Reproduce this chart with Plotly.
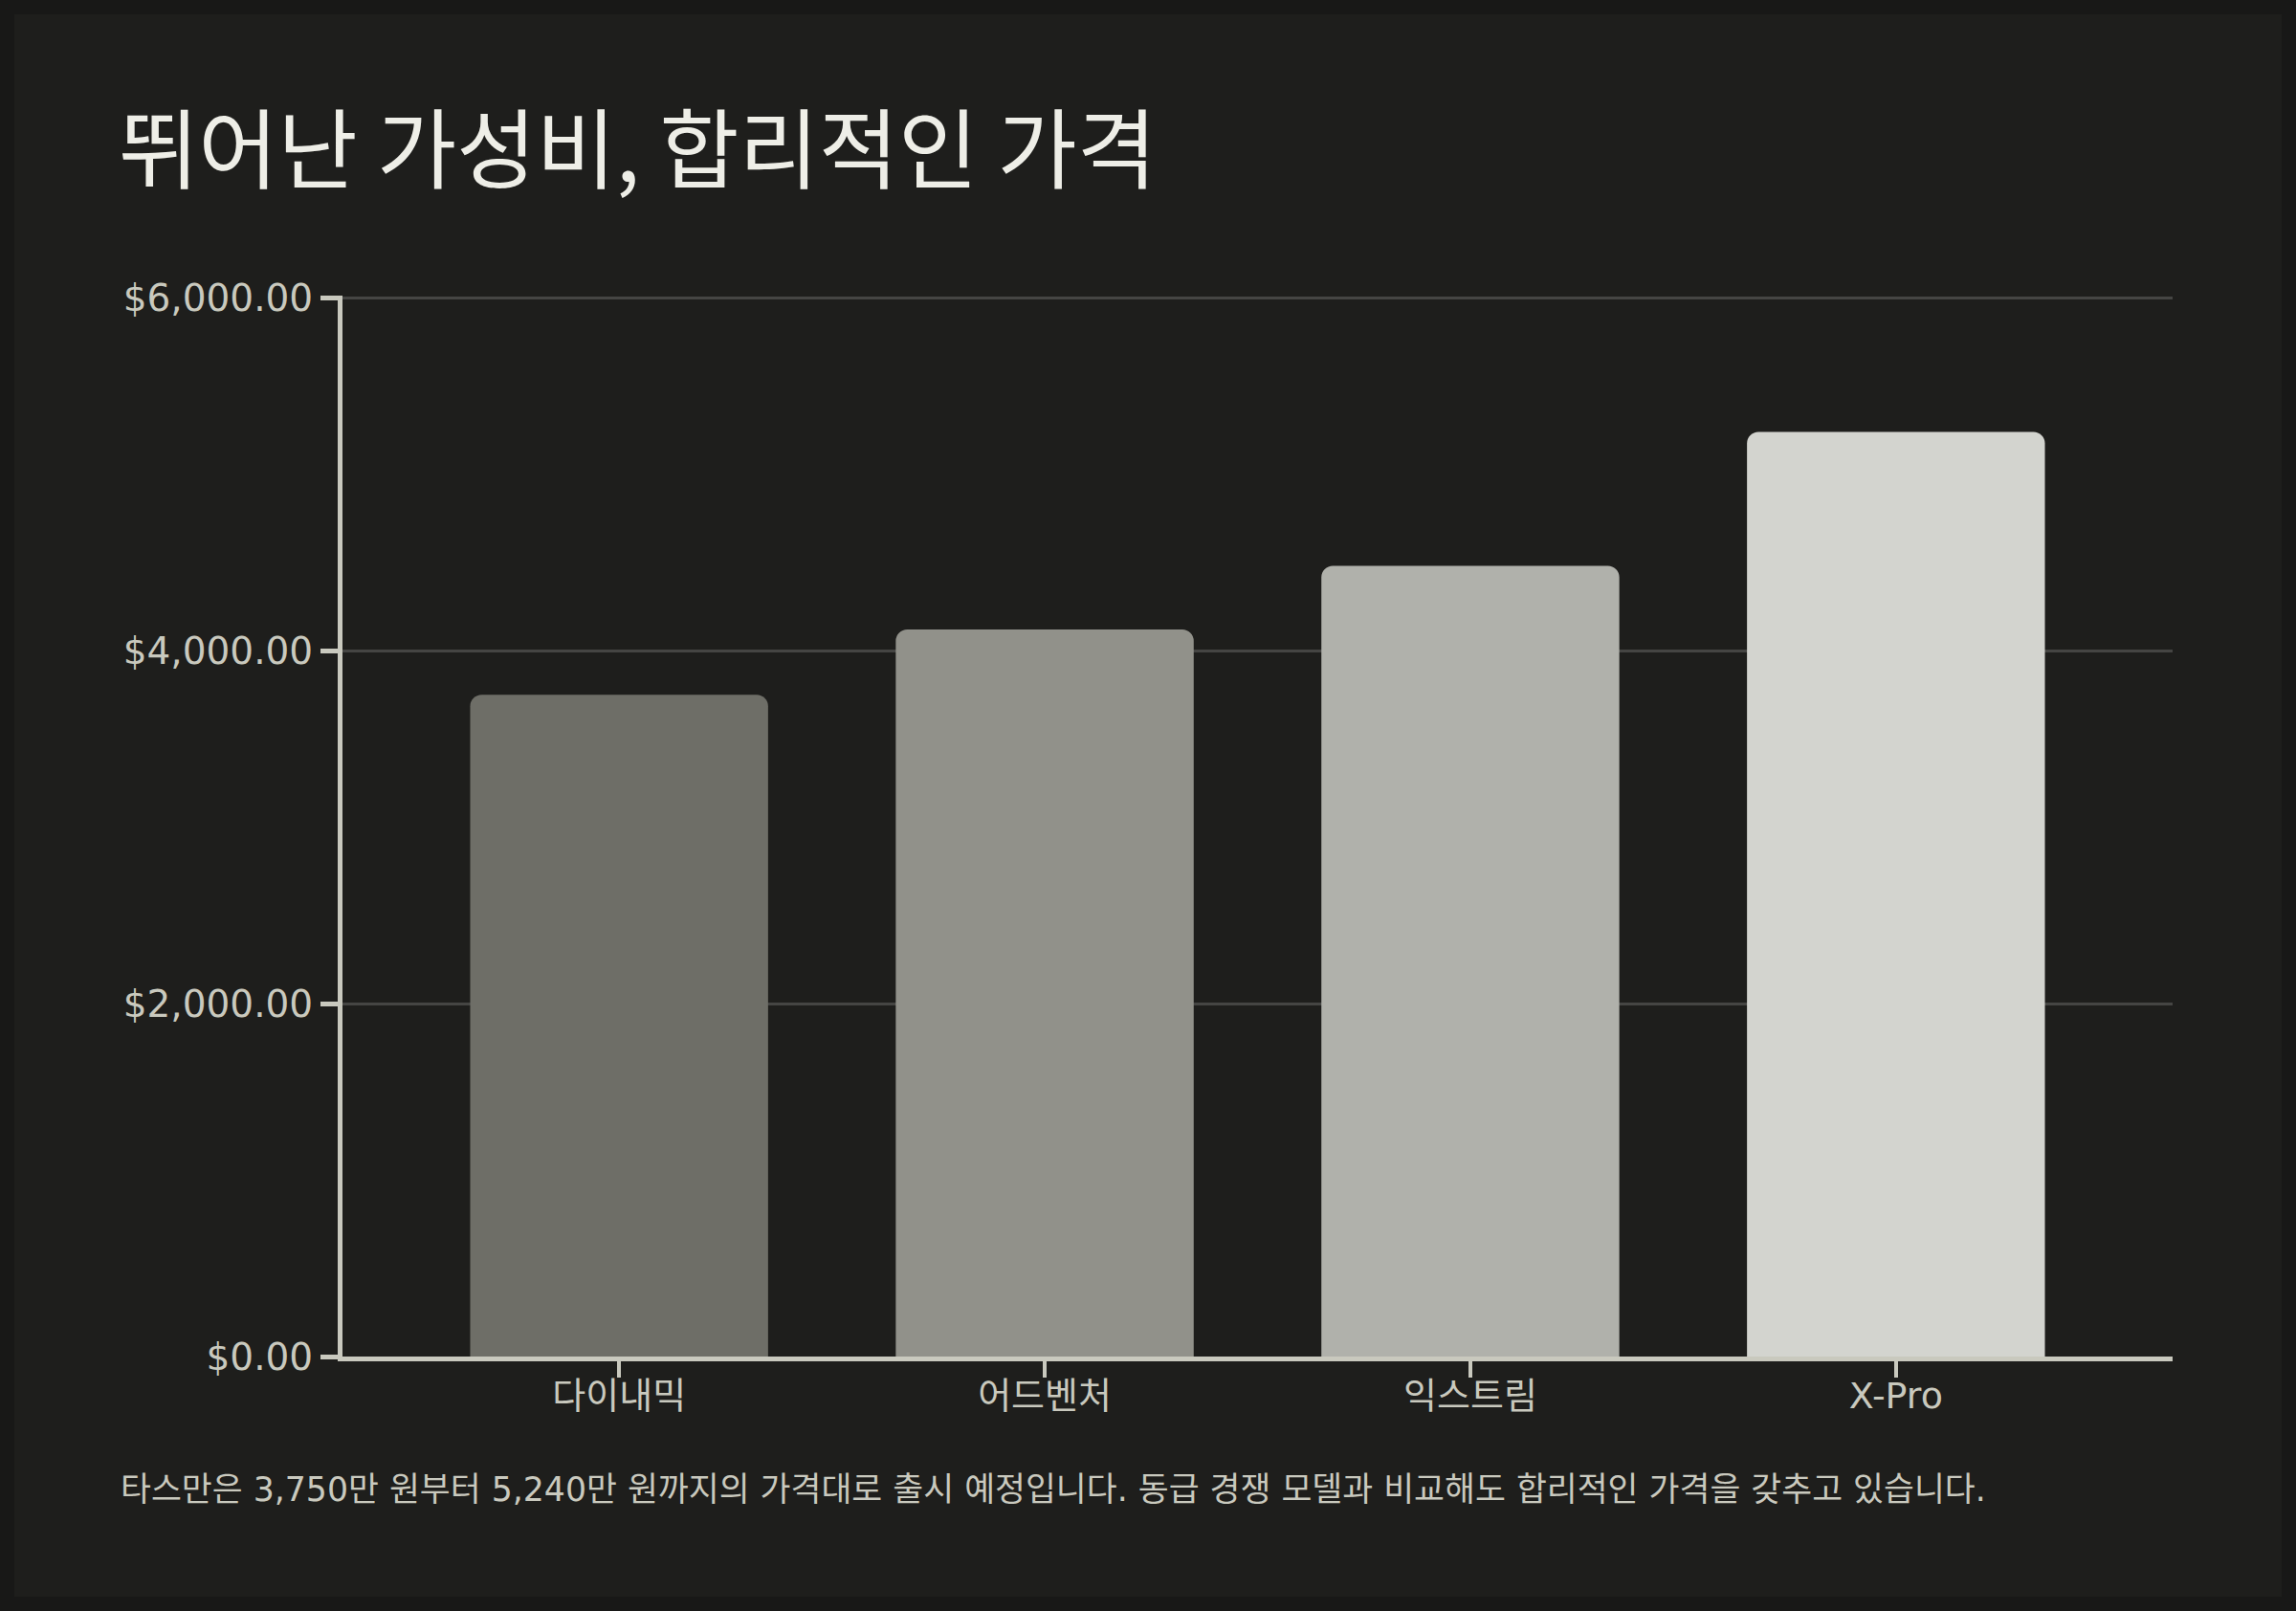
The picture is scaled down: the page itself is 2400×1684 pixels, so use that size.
import plotly.graph_objects as go

# data
models = ['다이내믹', '어드벤처', '익스트림', 'X-Pro']
prices = [3750, 4120, 4480, 5240]
bar_colors = ['#6e6e67', '#91918a', '#b0b1ab', '#d3d4cf']
y_ticks = [0, 2000, 4000, 6000]

title_text = '뛰어난 가성비, 합리적인 가격'
note_text = ('타스만은 3,750만 원부터 5,240만 원까지의 가격대로 출시 예정입니다. '
             '동급 경쟁 모델과 비교해도 합리적인 가격을 갖추고 있습니다.')

W, H = 2400, 1684
L, R, T, B = 358, 129, 309, 266
pw, ph = W - L - R, H - T - B


def px_x(x):
    return (x - L) / pw


def px_y(y):
    return (H - B - y) / ph


font_family = 'Noto Sans CJK KR, Noto Sans, sans-serif'
mixed_family = 'DejaVu Sans, Noto Sans CJK KR, sans-serif'
axis_color = '#c9c9be'

fig = go.Figure(data=[go.Bar(
    x=models, y=prices,
    marker=dict(color=bar_colors, cornerradius=12, line=dict(width=0)),
    width=0.7,
    hoverinfo='skip',
)])

fig.update_layout(
    width=W, height=H,
    margin=dict(l=L, r=R, t=T, b=B),
    paper_bgcolor='#181817',
    plot_bgcolor='rgba(0,0,0,0)',
    showlegend=False,
    font=dict(family=font_family, color=axis_color),
    title=dict(
        text=title_text, xref='container', yref='container',
        x=124 / W, xanchor='left', y=(H - 158) / H, yanchor='middle',
        font=dict(size=90.5, color='#eeeee7', family=font_family),
    ),
    shapes=[dict(
        type='rect', xref='paper', yref='paper', layer='below',
        x0=px_x(15), x1=px_x(W - 15), y0=px_y(H - 15), y1=px_y(15),
        fillcolor='#1e1e1c', line=dict(width=0),
    )],
    annotations=[dict(
        text=note_text, xref='paper', yref='paper',
        x=px_x(124), y=px_y(1557), xanchor='left', yanchor='middle',
        showarrow=False, font=dict(size=34.7, color='#c9c9be', family=mixed_family),
    )],
)

fig.update_xaxes(
    range=[-0.65, 3.65],
    showline=True, linecolor=axis_color, linewidth=5,
    ticks='outside', ticklen=17, tickwidth=4, tickcolor=axis_color,
    tickfont=dict(size=38, color=axis_color, family=mixed_family),
    ticklabelstandoff=-14,
    showgrid=False, zeroline=False,
)
fig.update_yaxes(
    range=[0, 6012], tickvals=y_ticks, tickformat='$,.2f',
    showline=True, linecolor=axis_color, linewidth=5,
    ticks='outside', ticklen=18, tickwidth=5, tickcolor=axis_color,
    tickfont=dict(size=39, color=axis_color, family='DejaVu Sans, sans-serif'),
    showgrid=True, gridcolor='#454543', gridwidth=2.5,
    zeroline=False,
)

fig.write_html('out.html',
               config={'displayModeBar': False},
               post_script="document.body.style.margin='0px';"
                           "document.body.style.background='#181817';")
